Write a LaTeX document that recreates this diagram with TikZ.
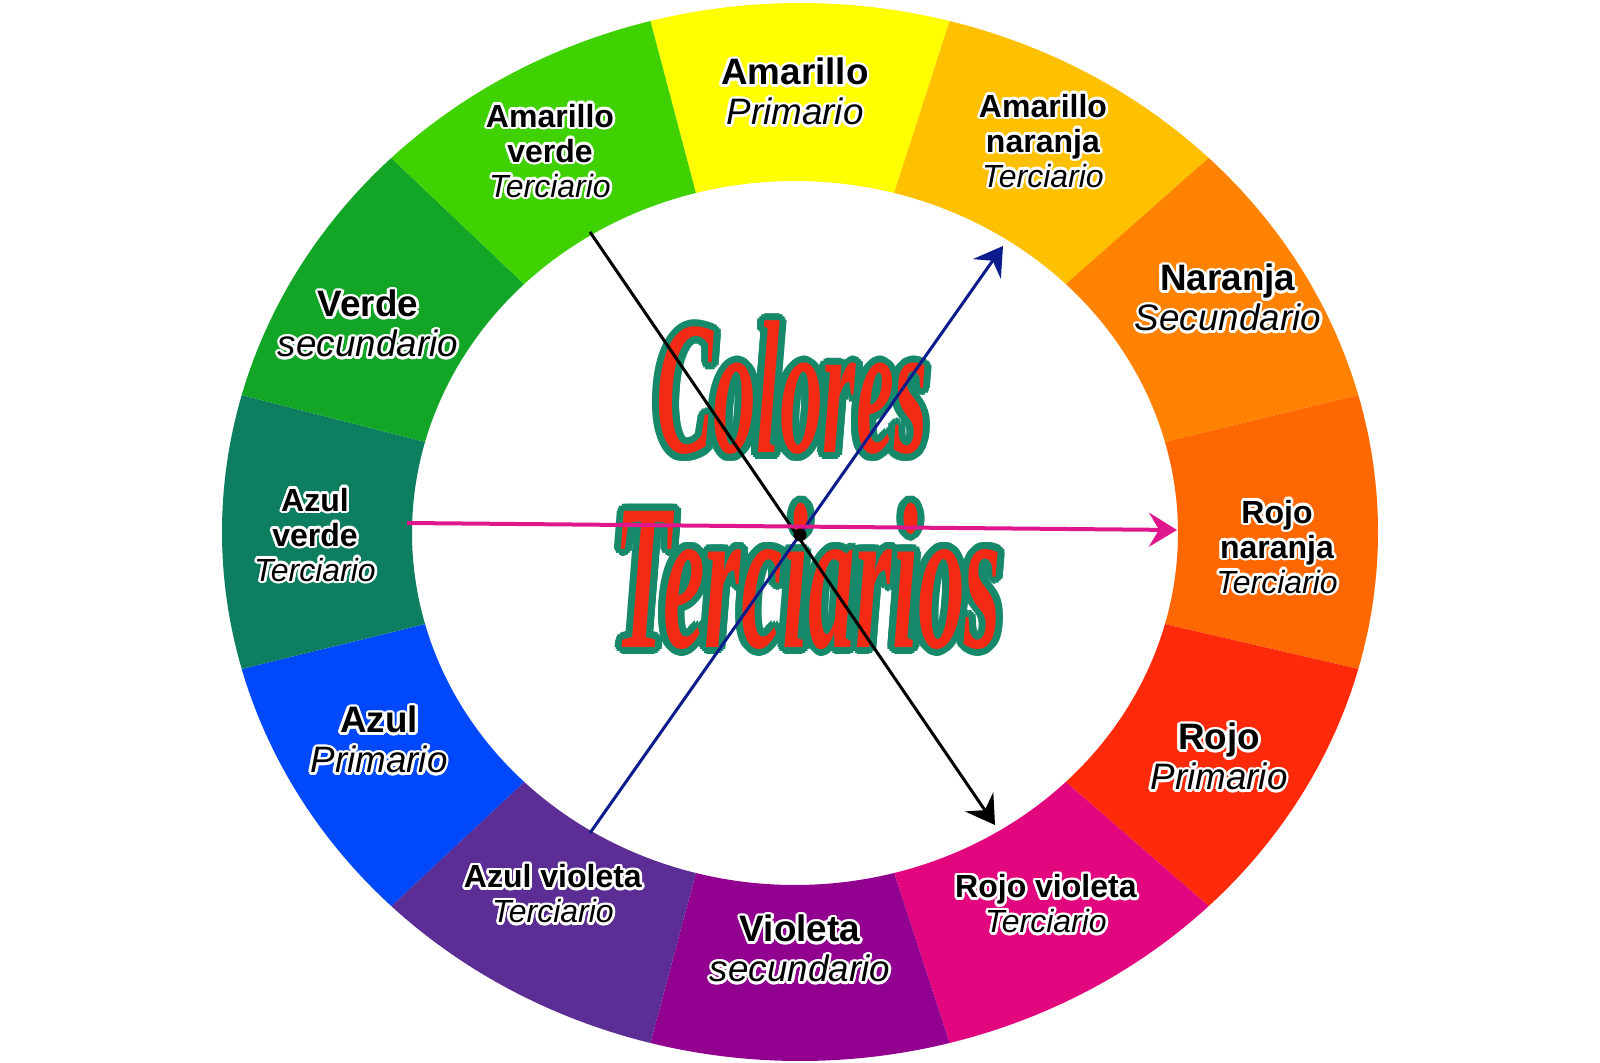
\documentclass[tikz,border=0pt]{standalone}
\usepackage{fontspec}
\setmainfont{Liberation Sans}
\newfontfamily\titulofont[FakeStretch=0.45]{Liberation Serif}
\usepackage[copies]{contour}
\contournumber{16}
\contourlength{1.3pt}
\usetikzlibrary{arrows.meta}

\definecolor{amarillo}{HTML}{FFFF00}
\definecolor{amarillonaranja}{HTML}{FFC000}
\definecolor{naranja}{HTML}{FF8300}
\definecolor{rojonaranja}{HTML}{FF6800}
\definecolor{rojo}{HTML}{FF2A0A}
\definecolor{rojovioleta}{HTML}{E2067F}
\definecolor{violeta}{HTML}{920090}
\definecolor{azulvioleta}{HTML}{5C2D95}
\definecolor{azul}{HTML}{0048FC}
\definecolor{azulverde}{HTML}{0D7E60}
\definecolor{verde}{HTML}{12A526}
\definecolor{amarilloverde}{HTML}{40D200}
\definecolor{flechaazul}{HTML}{0C1C8C}
\definecolor{flecharosa}{HTML}{E0168C}
\definecolor{contorno}{HTML}{17896B}
\definecolor{letrarojo}{HTML}{F42A14}

\newcommand{\nombre}[1]{\contour{white}{\textbf{#1}}}
\newcommand{\tipo}[1]{\contour{white}{\textit{#1}}}

\tikzset{
  primario/.style={align=center, inner sep=0pt, font=\fontsize{18.4}{20}\selectfont},
  terciario/.style={align=center, inner sep=0pt, font=\fontsize{16}{17.5}\selectfont},
  titulo/.style={anchor=base, inner sep=0pt, text=letrarojo},
  flecha/.style={line width=1.5pt, -{Stealth[length=14pt,width=17pt,inset=5pt]}},
}

\begin{document}
\begin{tikzpicture}[x=0.5pt,y=0.5pt,yscale=-1]

\fill[white] (0,0) rectangle (1600,1063);
\useasboundingbox (0,0) rectangle (1600,1063);

% ring of twelve colours
\foreach \ang/\col in {-90/amarillo, -60/amarillonaranja, -30/naranja, 0/rojonaranja, 30/rojo, 60/rojovioleta, 90/violeta, 120/azulvioleta, 150/azul, 180/azulverde, 210/verde, 240/amarilloverde}
  \fill[\col] ({800+578*cos(\ang-15)},{532+529*sin(\ang-15)}) arc[start angle=\ang-15, end angle=\ang+15, x radius=578, y radius=529]
    -- ({795+383*cos(\ang+15)},{533+352*sin(\ang+15)}) arc[start angle=\ang+15, end angle=\ang-15, x radius=383, y radius=352] -- cycle;

% labels
\node (e-amarillo) [primario] at (795,93) {\nombre{Amarillo}\\\tipo{Primario}};
\node (e-amarillonaranja) [terciario] at (1043,142) {\nombre{Amarillo}\\\nombre{naranja}\\\tipo{Terciario}};
\node (e-naranja) [primario] at (1228,299) {\nombre{Naranja}\\\tipo{Secundario}};
\node (e-rojonaranja) [terciario] at (1277,548) {\nombre{Rojo}\\\nombre{naranja}\\\tipo{Terciario}};
\node (e-rojo) [primario] at (1219,758) {\nombre{Rojo}\\\tipo{Primario}};
\node (e-rojovioleta) [terciario] at (1046,905) {\nombre{Rojo violeta}\\\tipo{Terciario}};
\node (e-violeta) [primario] at (800,950) {\nombre{Violeta}\\\tipo{secundario}};
\node (e-azulvioleta) [terciario] at (553,895) {\nombre{Azul violeta}\\\tipo{Terciario}};
\node (e-azul) [primario] at (379,741) {\nombre{Azul}\\\tipo{Primario}};
\node (e-azulverde) [terciario] at (315,536) {\nombre{Azul}\\\nombre{verde}\\\tipo{Terciario}};
\node (e-verde) [primario] at (368,325) {\nombre{Verde}\\\tipo{secundario}};
\node (e-amarilloverde) [terciario] at (550,152) {\nombre{Amarillo}\\\nombre{verde}\\\tipo{Terciario}};

% title
\node (colores) [titulo, font=\titulofont\bfseries\itshape\fontsize{95}{95}\selectfont] at (792,453) {\contourlength{3.5pt}\contour{contorno}{Colores}};
\node (terciarios) [titulo, font=\titulofont\bfseries\itshape\fontsize{104}{104}\selectfont] at (808,647) {\contourlength{3.5pt}\contour{contorno}{Terciarios}};

% arrows
\coordinate (negro-ini) at (590,232);
\coordinate (negro-fin) at (995,825);
\coordinate (azul-ini) at (590,833);
\coordinate (azul-fin) at (1003,246);
\coordinate (rosa-ini) at (407,523);
\coordinate (rosa-fin) at (1177,530);

\draw[flecha] (negro-ini) -- (negro-fin);
\draw[flecha, flechaazul] (azul-ini) -- (azul-fin);
\draw[flecha, flecharosa, line width=2pt] (rosa-ini) -- (rosa-fin);
\node (centro) [circle, fill=black, inner sep=0pt, minimum size=6.5pt] at (800,535) {};

\end{tikzpicture}
\end{document}
